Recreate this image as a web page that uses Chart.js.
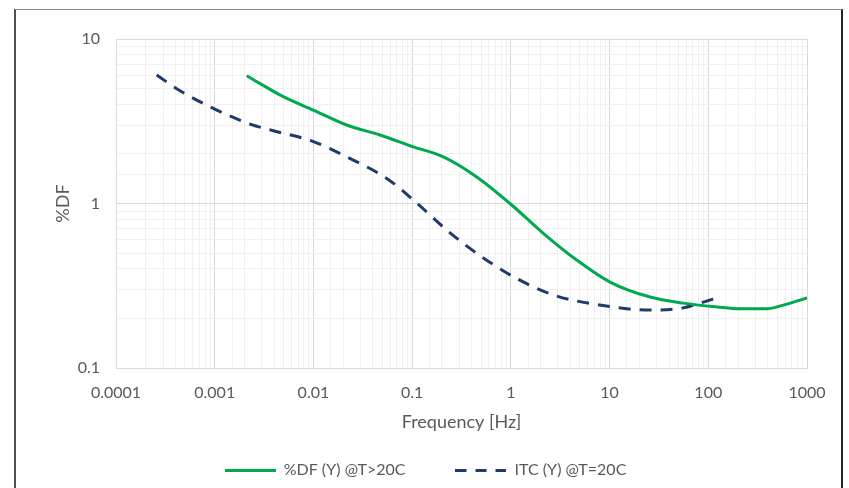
<!DOCTYPE html>
<html>
<head>
<meta charset="utf-8">
<script src="https://cdn.jsdelivr.net/npm/chart.js@4/dist/chart.umd.min.js"></script>
<style>
  html, body { margin: 0; padding: 0; background: #ffffff; }
  #wrap { position: relative; width: 849px; height: 488px; overflow: hidden; }
  #frame { position: absolute; left: 14px; top: 9px; width: 829px; height: 500px;
           border-left: 2px solid #505050; border-top: 1px solid #8a8a8a; border-right: 2px solid #222222; box-sizing: border-box; }
  canvas#c { position: absolute; left: 0; top: 0; }
</style>
</head>
<body>
<div id="wrap">
  <div id="frame"></div>
  <canvas id="c" width="849" height="488"></canvas>
</div>
<script>
// Frequency (Hz) and %DF values
const dfFreq   = [0.00211, 0.00495, 0.00998, 0.0217, 0.0473, 0.103, 0.207, 0.451, 0.98, 2.13, 4.65, 10.1, 25.7, 55.6, 123, 210, 394, 573, 1000];
const dfValues = [5.98, 4.46, 3.70, 3.00, 2.61, 2.21, 1.92, 1.45, 1.00, 0.659, 0.453, 0.333, 0.270, 0.248, 0.235, 0.229, 0.229, 0.241, 0.267];

const itcFreq   = [0.000258, 0.000445, 0.00105, 0.00228, 0.00393, 0.00998, 0.0217, 0.0553, 0.103, 0.224, 0.451, 1.06, 2.70, 6.85, 25.7, 55.6, 82.6, 126];
const itcValues = [6.04, 4.85, 3.70, 3.04, 2.77, 2.38, 1.92, 1.42, 1.05, 0.690, 0.498, 0.359, 0.278, 0.245, 0.225, 0.232, 0.248, 0.268];

const seriesNames = ['%DF (Y) @T>20C', 'ITC (Y) @T=20C'];
const xTickLabels = ['0.0001', '0.001', '0.01', '0.1', '1', '10', '100', '1000'];
const yTickLabels = ['0.1', '1', '10'];
const xTitle = 'Frequency [Hz]';
const yTitle = '%DF';

const GREEN = '#00A84F';
const NAVY = '#1F3A6B';

const toPoints = (xs, ys) => xs.map((x, i) => ({ x: x, y: ys[i] }));
const isDecade = v => Math.abs(Math.log10(v) - Math.round(Math.log10(v))) < 1e-9;
const fmt = v => {
  const p = Math.round(Math.log10(v));
  return p < 0 ? (1 / Math.pow(10, -p)).toFixed(-p) : String(Math.pow(10, p));
};
const gridColor = ctx => (ctx.tick && isDecade(ctx.tick.value)) ? '#d9d9d9' : '#f0f0f0';

// legend swatches (line samples) drawn on small canvases
function swatch(color, dash) {
  const cv = document.createElement('canvas');
  cv.width = 51; cv.height = 3;
  const g = cv.getContext('2d');
  g.strokeStyle = color;
  g.lineWidth = 3;
  g.setLineDash(dash);
  g.beginPath();
  g.moveTo(0, 1.5);
  g.lineTo(51, 1.5);
  g.stroke();
  return cv;
}

Chart.defaults.font.family = 'Lato, "Open Sans", sans-serif';
Chart.defaults.color = '#595959';

new Chart(document.getElementById('c'), {
  type: 'line',
  data: {
    datasets: [
      {
        label: seriesNames[0],
        data: toPoints(dfFreq, dfValues),
        borderColor: GREEN,
        backgroundColor: GREEN,
        borderWidth: 3,
        pointRadius: 0,
        pointStyle: swatch(GREEN, []),
        cubicInterpolationMode: 'monotone',
        fill: false
      },
      {
        label: seriesNames[1],
        data: toPoints(itcFreq, itcValues),
        borderColor: NAVY,
        backgroundColor: NAVY,
        borderWidth: 3,
        borderDash: [12, 9],
        pointRadius: 0,
        pointStyle: swatch(NAVY, [11, 9]),
        cubicInterpolationMode: 'monotone',
        fill: false
      }
    ]
  },
  options: {
    responsive: false,
    animation: false,
    layout: { padding: { left: 44, right: 42, top: 39, bottom: 0 } },
    scales: {
      x: {
        type: 'logarithmic',
        min: 0.0001,
        max: 1000,
        grid: { color: gridColor, drawTicks: false, lineWidth: 1 },
        border: { color: '#d9d9d9' },
        ticks: {
          autoSkip: false,
          maxRotation: 0,
          padding: 15,
          font: { size: 16 },
          color: '#595959',
          callback: function (v) {
            if (!isDecade(v)) return '';
            const s = fmt(v);
            return xTickLabels.includes(s) ? s : '';
          }
        },
        title: { display: true, text: xTitle, font: { size: 18 }, color: '#595959', padding: { top: 0, bottom: -20.8 } },
        afterFit: s => { s.height = 44; }
      },
      y: {
        type: 'logarithmic',
        min: 0.1,
        max: 10,
        grid: { color: gridColor, drawTicks: false, lineWidth: 1 },
        border: { color: '#d9d9d9' },
        ticks: {
          autoSkip: false,
          padding: 16,
          font: { size: 16 },
          color: '#595959',
          callback: function (v) {
            if (!isDecade(v)) return '';
            const s = fmt(v);
            return yTickLabels.includes(s) ? s : '';
          }
        },
        title: { display: true, text: yTitle, font: { size: 18 }, color: '#595959', padding: { top: 8.2, bottom: 0 } },
        afterFit: s => { s.width = 72; }
      }
    },
    plugins: {
      legend: {
        position: 'bottom',
        labels: {
          usePointStyle: true,
          pointStyleWidth: 51,
          padding: 50,
          font: { size: 16 },
          color: '#595959'
        }
      },
      tooltip: { enabled: false }
    }
  }
});
</script>
</body>
</html>
